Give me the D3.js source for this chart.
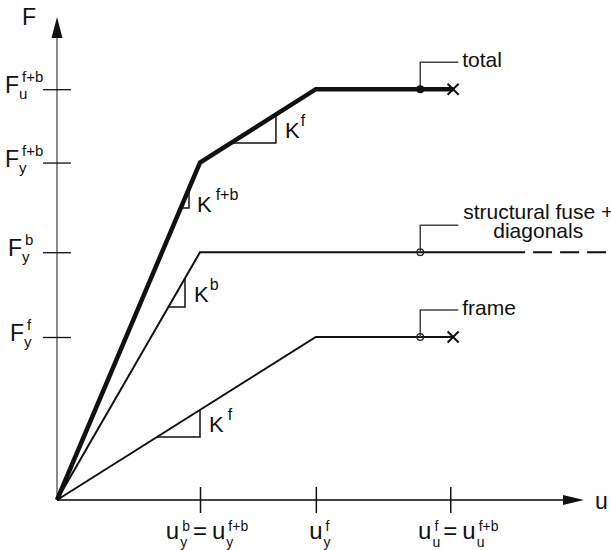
<!DOCTYPE html>
<html><head><meta charset="utf-8">
<script src="https://cdn.jsdelivr.net/npm/d3@7"></script>
<style>
body{margin:0;background:#fff;}
svg{display:block;}
text{font-family:"Liberation Sans",Arial,Helvetica,sans-serif;fill:#111;}
</style>
</head><body>
<svg id="c" width="611" height="550"></svg>
<script>
// ---------------- DATA (dimensionless units) ----------------
const uTickValues = [1.0, 1.81, 2.75];          // u_y^b = u_y^{f+b}, u_y^f, u_u^f = u_u^{f+b}
const fTickValues = [2.52, 2.07, 1.52, 1.0];    // F_u^{f+b}, F_y^{f+b}, F_y^b, F_y^f
const axisMaxU = 3.685;                          // arrow tip of u axis
const axisMaxF = 2.963;                          // arrow tip of F axis

const totalU = [0, 1.0, 1.81, 2.77];
const totalF = [0, 2.07, 2.52, 2.52];
const fuseU  = [0, 1.0, 3.273];
const fuseF  = [0, 1.52, 1.52];
const fuseDashU = [3.329, 3.874];
const fuseDashF = [1.52, 1.52];
const frameU = [0, 1.81, 2.77];
const frameF = [0, 1.0, 1.0];
const markerU = 2.54;                            // location of the label markers
const ultimateU = 2.77;                          // "x" end markers

const seriesLabels = [["total"], ["structural fuse +", "diagonals"], ["frame"]];

// stiffness triangles: vertical leg at u, horizontal leg at F
const stiffU = [0.923, 1.531, 0.895, 1.0];
const stiffF = [1.791, 2.190, 1.184, 0.387];
const stiffSup = ["f+b", "f", "b", "f"];

// ---------------- SETUP ----------------
const svg = d3.select("#c");
const x = d3.scaleLinear().domain([0, 3.874]).range([57, 611]);
const y = d3.scaleLinear().domain([0, axisMaxF]).range([500, 17]);
const line = d3.line().x(d => x(d[0])).y(d => y(d[1]));
const zip = (a, b) => a.map((v, i) => [v, b[i]]);

// ---------------- AXES ----------------
svg.append("line").attr("x1", x(0)).attr("x2", x(0)).attr("y1", y(0)).attr("y2", y(axisMaxF) + 21)
  .attr("stroke", "#8a8a8a").attr("stroke-width", 2);
svg.append("path").attr("d", `M${x(0)},${y(axisMaxF)} L${x(0)-5.5},${y(axisMaxF)+21} L${x(0)+5.5},${y(axisMaxF)+21} Z`)
  .attr("fill", "#111");
svg.append("line").attr("x1", x(0)).attr("x2", x(axisMaxU) - 21).attr("y1", y(0)).attr("y2", y(0))
  .attr("stroke", "#444").attr("stroke-width", 1.8);
svg.append("path").attr("d", `M${x(axisMaxU)},${y(0)} L${x(axisMaxU)-21},${y(0)-5} L${x(axisMaxU)-21},${y(0)+5} Z`)
  .attr("fill", "#111");

const xAx = svg.append("g").attr("transform", `translate(0,${y(0) - 13})`)
  .call(d3.axisBottom(x).tickValues(uTickValues).tickSize(26).tickFormat(""));
xAx.select(".domain").remove();
xAx.selectAll("line").attr("stroke", "#111").attr("stroke-width", 1.5);
const yAx = svg.append("g").attr("transform", `translate(${x(0) + 14},0)`)
  .call(d3.axisLeft(y).tickValues(fTickValues).tickSize(28).tickFormat(""));
yAx.select(".domain").remove();
yAx.selectAll("line").attr("stroke", "#111").attr("stroke-width", 1.3);

svg.append("text").attr("x", 22).attr("y", 25).style("font-size", "23px").text("F");
svg.append("text").attr("x", 595).attr("y", 509).style("font-size", "23px").text("u");

function rich(tokens, o) {
  const grp = svg.append("g");
  let cx = 0, anchorX = null;
  tokens.forEach(t => {
    if (t.m !== undefined) {
      const el = grp.append("text").attr("x", cx).attr("y", 0).style("font-size", o.main + "px").text(t.m);
      const w = el.node().getComputedTextLength();
      if (t.anchor) anchorX = cx + w / 2;
      cx += w + (t.gap || 0);
    } else {
      let w1 = 0, w2 = 0;
      if (t.sub) {
        const e = grp.append("text").attr("x", cx + o.subDx).attr("y", o.subDy).style("font-size", o.small + "px").text(t.sub);
        w1 = e.node().getComputedTextLength() + o.subDx;
      }
      if (t.sup) {
        const e = grp.append("text").attr("x", cx + o.supDx).attr("y", o.supDy).style("font-size", o.small + "px").text(t.sup);
        w2 = e.node().getComputedTextLength() + o.supDx;
      }
      cx += Math.max(w1, w2) + (t.gap || 0);
    }
  });
  return { grp, width: cx, anchorX };
}

const fLabelTokens = [
  [{ m: "F" }, { sub: "u", sup: "f+b" }],
  [{ m: "F" }, { sub: "y", sup: "f+b" }],
  [{ m: "F" }, { sub: "y", sup: "b" }],
  [{ m: "F" }, { sub: "y", sup: "f" }]
];
const fLabelStart = [5, 5, 8, 10];
fTickValues.forEach((v, i) => {
  const r = rich(fLabelTokens[i], { main: 23, small: 15, subDx: 0, subDy: 6, supDx: 3, supDy: -11 });
  r.grp.attr("transform", `translate(${fLabelStart[i]},${y(v) + 4})`);
});

const uLabelTokens = [
  [{ m: "u" }, { sub: "y", sup: "b", gap: 3 }, { m: "=", anchor: true, gap: 5 }, { m: "u" }, { sub: "y", sup: "f+b" }],
  [{ m: "u", anchor: true }, { sub: "y", sup: "f" }],
  [{ m: "u" }, { sub: "u", sup: "f", gap: 3 }, { m: "=", anchor: true, gap: 5 }, { m: "u" }, { sub: "u", sup: "f+b" }]
];
uTickValues.forEach((v, i) => {
  const r = rich(uLabelTokens[i], { main: 24, small: 14, subDx: 1, subDy: 8, supDx: 3, supDy: -8 });
  r.grp.attr("transform", `translate(${x(v) - r.anchorX},539)`);
});

// ---------------- SERIES ----------------
svg.append("path").attr("d", line(zip(frameU, frameF))).attr("fill", "none")
  .attr("stroke", "#111").attr("stroke-width", 2).attr("stroke-linejoin", "miter");
svg.append("path").attr("d", line(zip(fuseU, fuseF))).attr("fill", "none")
  .attr("stroke", "#111").attr("stroke-width", 2).attr("stroke-linejoin", "miter");
svg.append("path").attr("d", line(zip(fuseDashU, fuseDashF))).attr("fill", "none")
  .attr("stroke", "#111").attr("stroke-width", 2).attr("stroke-dasharray", "19,8");
svg.append("path").attr("d", line(zip(totalU, totalF))).attr("fill", "none")
  .attr("stroke", "#111").attr("stroke-width", 4.5).attr("stroke-linejoin", "miter");

const segs = [
  [[0, 0], [totalU[1], totalF[1]]],
  [[totalU[1], totalF[1]], [totalU[2], totalF[2]]],
  [[0, 0], [fuseU[1], fuseF[1]]],
  [[0, 0], [frameU[1], frameF[1]]]
];
const kText = [
  { dx: 8, dy: 4, gap: 4 },
  { dx: 9, dy: -5, gap: 1 },
  { dx: 9, dy: -5, gap: 1 },
  { dx: 9, dy: -5, gap: 4 }
];
segs.forEach((s, i) => {
  const [p0, p1] = s;
  const sl = (p1[1] - p0[1]) / (p1[0] - p0[0]);
  const fAt = u => p0[1] + (u - p0[0]) * sl;
  const uAt = f => p0[0] + (f - p0[1]) / sl;
  const uv = stiffU[i], fh = stiffF[i];
  svg.append("path")
    .attr("d", `M${x(uAt(fh))},${y(fh)} L${x(uv)},${y(fh)} L${x(uv)},${y(fAt(uv))}`)
    .attr("fill", "none").attr("stroke", "#111").attr("stroke-width", 1.5);
  const t = svg.append("text").attr("x", x(uv) + kText[i].dx).attr("y", y(fh) + kText[i].dy).style("font-size", "22px");
  t.append("tspan").text("K");
  t.append("tspan").attr("dx", kText[i].gap).attr("dy", -12).style("font-size", "16px").text(stiffSup[i]);
});

const markerF = [totalF[2], fuseF[1], frameF[1]];
markerF.forEach((f, i) => {
  const mx = x(markerU), my = y(f);
  svg.append("path").attr("d", `M${mx},${my} V${my - 27} H${mx + 38}`)
    .attr("fill", "none").attr("stroke", "#444").attr("stroke-width", 1.5);
  if (i === 0) svg.append("circle").attr("cx", mx).attr("cy", my).attr("r", 4).attr("fill", "#111");
  else svg.append("circle").attr("cx", mx).attr("cy", my).attr("r", 3.3).attr("fill", "none").attr("stroke", "#222").attr("stroke-width", 1.3);
  const lines = seriesLabels[i];
  if (lines.length === 1) {
    svg.append("text").attr("x", mx + 42).attr("y", my - 22).style("font-size", "21px").text(lines[0]);
  } else {
    const t1 = svg.append("text").attr("x", mx + 43).attr("y", my - 33).style("font-size", "21px").text(lines[0]);
    const w = t1.node().getComputedTextLength();
    svg.append("text").attr("x", mx + 43 + w / 2).attr("y", my - 14).attr("text-anchor", "middle")
      .style("font-size", "21px").text(lines[1]);
  }
});

[totalF[3], frameF[2]].forEach(f => {
  const cx = x(ultimateU), cy = y(f), h = 5.5;
  svg.append("path").attr("d", `M${cx-h},${cy-h} L${cx+h},${cy+h} M${cx-h},${cy+h} L${cx+h},${cy-h}`)
    .attr("stroke", "#111").attr("stroke-width", 2);
});
</script>
</body></html>
